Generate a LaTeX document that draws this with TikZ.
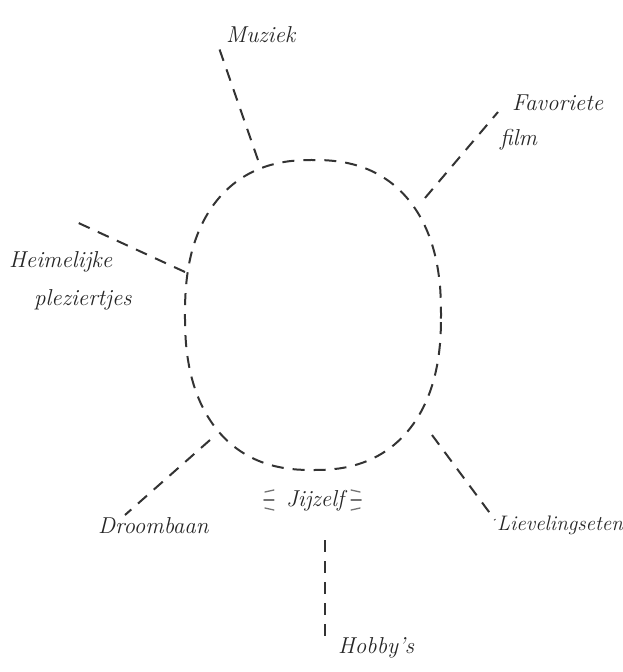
\documentclass[tikz,border=0pt]{standalone}
\usepackage{fontspec}
\begin{document}
\begin{tikzpicture}[x=1pt,y=-1pt,
  ray/.style={line width=2pt, dash pattern=on 12pt off 9pt, black!80},
  lbl/.style={font=\fontsize{23}{26}\selectfont\itshape, text=black!85, inner sep=0pt},
  small/.style={font=\fontsize{21}{24}\selectfont\itshape},
  tick/.style={line width=1.3pt, black!55, line cap=round}]
\useasboundingbox (0,0) rectangle (623,672);
% oval (superellipse)
\draw[ray] plot[domain=0:360, samples=240, smooth cycle]
  ({313+128*sign(cos(\x))*pow(abs(cos(\x)),0.85)},
   {315+155*sign(sin(\x))*pow(abs(sin(\x)),0.85)});
% ray anchors on oval
\coordinate (oMu) at (258,160);
\coordinate (oFa) at (425,198);
\coordinate (oHe) at (185,272);
\coordinate (oDr) at (210,440);
\coordinate (oLi) at (432,435);
\coordinate (oHo) at (325,540);
% free ends
\coordinate (eMu) at (218,45);
\coordinate (eFa) at (498,112);
\coordinate (eHe) at (72,220);
\coordinate (eDr) at (125,515);
\coordinate (eLi) at (495,520);
\coordinate (eHo) at (325,640);
% labels
\node[lbl, anchor=west] (mu) at (226,35) {Muziek};
\node[lbl, anchor=west] (fa) at (512,103) {Favoriete};
\node[lbl, anchor=west] (fi) at (500,140) {film};
\node[lbl, anchor=west] (he) at (9,262) {Heimelijke};
\node[lbl, anchor=west] (pl) at (34,300) {pleziertjes};
\node[lbl, anchor=west] (dr) at (98,526) {Droombaan};
\node[lbl, small, anchor=west] (li) at (497,525) {Lievelingseten};
\node[lbl] (jij) at (315,501) {Jijzelf};
\node[lbl, anchor=west] (ho) at (338,648) {Hobby's};
% rays
\draw[ray] (oMu) -- (eMu);
\draw[ray] (oFa) -- (eFa);
\draw[ray] (oHe) -- (eHe);
\draw[ray] (oDr) -- (eDr);
\draw[ray] (oLi) -- (eLi);
\draw[ray] (oHo) -- (eHo);
% glow ticks around Jijzelf
\draw[tick] ([xshift=-12pt,yshift=-9pt]jij.west) -- ++(-9,-2);
\draw[tick] ([xshift=-12pt,yshift=1pt]jij.west) -- ++(-10,0);
\draw[tick] ([xshift=-12pt,yshift=11pt]jij.west) -- ++(-9,2);
\draw[tick] ([xshift=7pt,yshift=-9pt]jij.east) -- ++(9,-2);
\draw[tick] ([xshift=7pt,yshift=1pt]jij.east) -- ++(10,0);
\draw[tick] ([xshift=7pt,yshift=11pt]jij.east) -- ++(9,2);
\end{tikzpicture}
\end{document}
